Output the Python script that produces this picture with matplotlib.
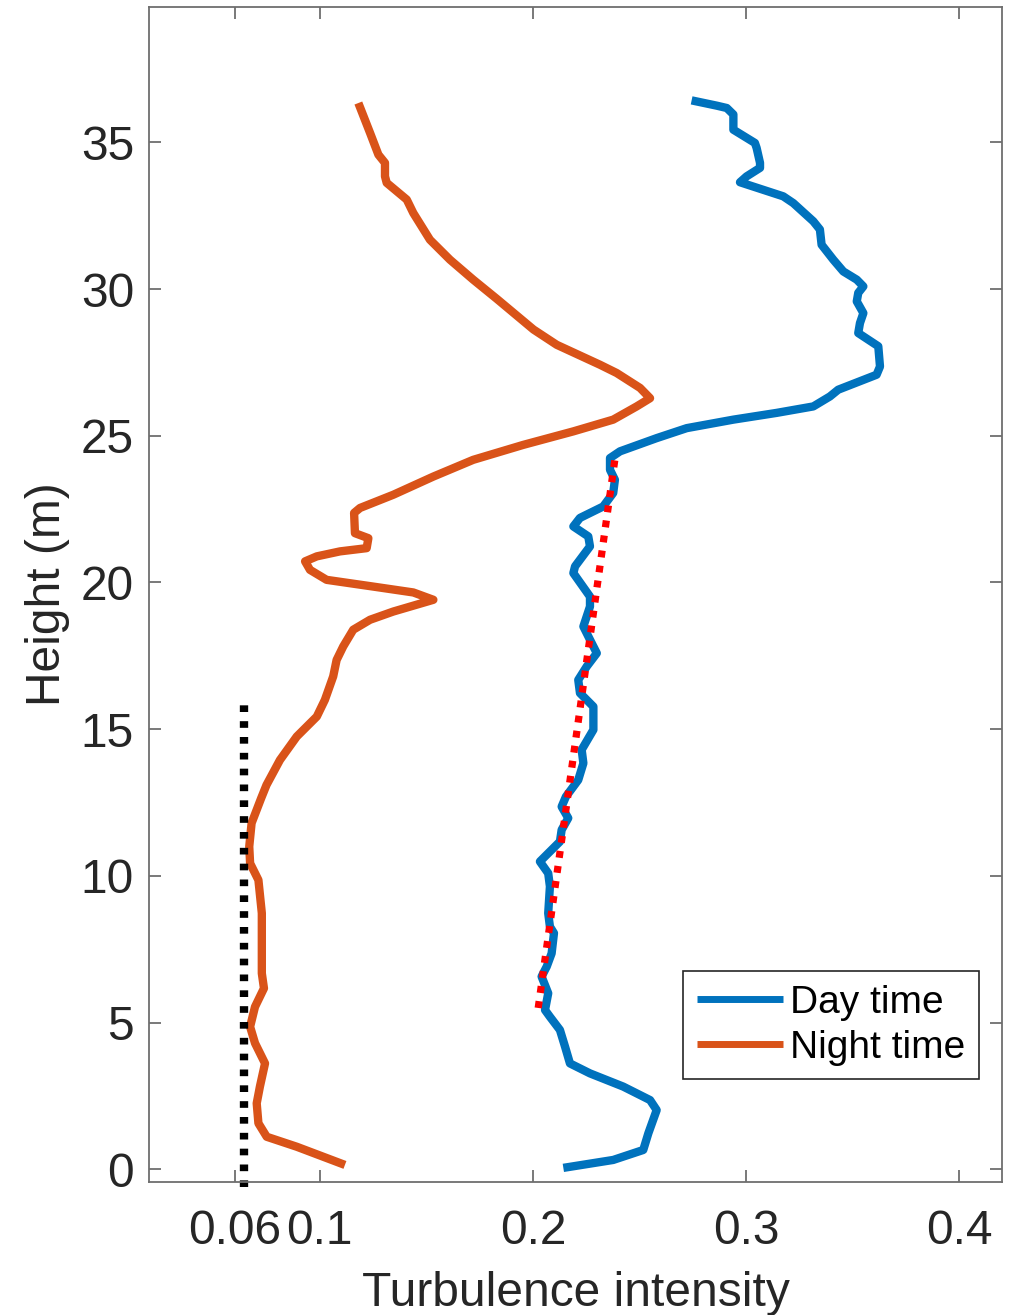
import matplotlib
matplotlib.use("Agg")
import matplotlib.pyplot as plt

plt.rcParams['font.family'] = ['Liberation Sans', 'DejaVu Sans']

# ---------------- data ----------------
day_h = [0.05, 0.32, 0.66, 1.23, 2.02, 2.36, 2.82, 3.27, 3.61, 4.18, 4.75, 5.20, 5.43,
         6.0, 6.57, 6.91, 7.36, 8.05, 8.27, 8.73, 9.64, 10.09, 10.49, 10.83, 11.17,
         11.57, 11.97, 12.36, 12.70, 13.27, 13.84, 14.30, 14.98, 15.77, 16.23, 16.68,
         17.14, 17.59, 18.05, 18.5, 19.18, 19.52, 20.32, 20.55, 21.23, 21.57, 21.91,
         22.20, 22.59, 23.05, 23.50, 23.84, 24.24, 24.47, 24.92, 25.26, 25.55, 25.78,
         26.0, 26.34, 26.57, 27.08, 27.36, 28.05, 28.50, 28.84, 29.18, 29.58, 29.87,
         30.09, 30.32, 30.60, 31.0, 31.51, 32.03, 32.31, 32.93, 33.16, 33.64, 33.84,
         34.13, 34.30, 34.81, 34.98, 35.43, 35.95, 36.17, 36.25, 36.43]
day_ti = [0.2143, 0.2377, 0.2518, 0.2542, 0.2581, 0.2550, 0.2424, 0.2268, 0.2174, 0.2151,
          0.2127, 0.2080, 0.2057, 0.2072, 0.2041, 0.2065, 0.2088, 0.2099, 0.2080, 0.2072,
          0.2080, 0.2072, 0.2033, 0.2080, 0.2127, 0.2135, 0.2166, 0.2135, 0.2155, 0.2213,
          0.2237, 0.2229, 0.2284, 0.2284, 0.2221, 0.2213, 0.2253, 0.2300, 0.2268, 0.2237,
          0.2268, 0.2268, 0.2190, 0.2198, 0.2268, 0.2260, 0.2190, 0.2221, 0.2330, 0.2377,
          0.2385, 0.2362, 0.2362, 0.2409, 0.2581, 0.2722, 0.2941, 0.3144, 0.3316, 0.3394,
          0.3433, 0.3613, 0.3629, 0.3621, 0.3527, 0.3535, 0.3551, 0.3520, 0.3527, 0.3551,
          0.3520, 0.3457, 0.3410, 0.3355, 0.3347, 0.3316, 0.3222, 0.3175, 0.2972, 0.3003,
          0.3066, 0.3066, 0.3050, 0.3042, 0.2941, 0.2941, 0.2910, 0.2863, 0.2745]

night_h = [0.15, 0.77, 1.11, 1.57, 2.25, 2.82, 3.61, 4.30, 4.86, 5.54, 6.17, 6.68, 7.59,
           8.73, 9.86, 10.43, 11.0, 11.80, 12.65, 13.1, 13.95, 14.75, 15.43, 16.0, 16.80,
           17.36, 17.82, 18.39, 18.73, 19.01, 19.41, 19.66, 19.86, 20.09, 20.43, 20.72,
           20.89, 21.06, 21.17, 21.51, 21.68, 22.37, 22.54, 22.99, 23.61, 24.18, 24.69,
           25.15, 25.55, 26.0, 26.28, 26.63, 27.14, 27.42, 28.10, 28.62, 29.67, 30.32,
           31.0, 31.68, 32.59, 33.05, 33.62, 33.84, 34.30, 34.58, 35.32, 36.34]
night_ti = [0.1118, 0.0892, 0.0751, 0.0712, 0.0704, 0.0719, 0.0743, 0.0696, 0.0673, 0.0696,
            0.0738, 0.0728, 0.0728, 0.0728, 0.0712, 0.0673, 0.0669, 0.0680, 0.0725, 0.0750,
            0.0813, 0.0892, 0.0986, 0.1024, 0.1063, 0.1079, 0.1110, 0.1157, 0.1236, 0.1345,
            0.1533, 0.1439, 0.1251, 0.1032, 0.0954, 0.0931, 0.0986, 0.1095, 0.1220, 0.1228,
            0.1165, 0.1161, 0.1189, 0.1345, 0.1533, 0.1720, 0.1955, 0.2190, 0.2377, 0.2487,
            0.2550, 0.2503, 0.2393, 0.2315, 0.2112, 0.2003, 0.1830, 0.1720, 0.1611, 0.1517,
            0.1439, 0.1408, 0.1314, 0.1306, 0.1306, 0.1275, 0.1236, 0.1181]

fit_ti = [0.2025, 0.2385]
fit_h = [5.5, 24.2]

ref_ti = [0.0645, 0.0645]
ref_h = [-0.6, 15.9]

xticks = [0.06, 0.1, 0.2, 0.3, 0.4]
xticklabels = ['0.06', '0.1', '0.2', '0.3', '0.4']
yticks = [0, 5, 10, 15, 20, 25, 30, 35]

# ---------------- plot ----------------
fig = plt.figure(figsize=(10.22, 13.15), dpi=100)
ax = fig.add_axes([0.1461, 0.1014, 0.8340, 0.8930])

blue = '#0072BD'
orange = '#D95319'
lw = 6.0

ax.plot(day_ti, day_h, color=blue, lw=lw, label='Day time', solid_joinstyle='round',
        solid_capstyle='butt')
ax.plot(night_ti, night_h, color=orange, lw=lw, label='Night time', solid_joinstyle='round',
        solid_capstyle='butt')
ax.plot(fit_ti, fit_h, color='red', lw=5.2, ls=(0, (0.95, 1.15)), dash_capstyle='butt')
ax.plot(ref_ti, ref_h, color='black', lw=6.0, ls=(0, (0.8, 1.1)), dash_capstyle='butt',
        clip_on=False)

ax.set_xlim(0.02, 0.42)
ax.set_ylim(-0.42, 39.6)
ax.set_xticks(xticks)
ax.set_xticklabels(xticklabels)
ax.set_yticks(yticks)

axcol = '#6e6e6e'
for s in ax.spines.values():
    s.set_color(axcol)
    s.set_linewidth(1.3)
ax.tick_params(axis='both', which='major', direction='in', length=8.6, width=1.3,
               color=axcol, labelcolor='#262626', labelsize=34.5,
               top=True, right=True)
ax.tick_params(axis='x', pad=20)
ax.tick_params(axis='y', pad=11)

ax.set_xlabel('Turbulence intensity', fontsize=34.5, color='#262626', labelpad=12)
ax.set_ylabel('Height (m)', fontsize=34.5, color='#262626', labelpad=8)

leg = ax.legend(loc='lower right', bbox_to_anchor=(0.9737, 0.0872), borderaxespad=0,
                fontsize=28, handlelength=2.2, handletextpad=0.2, borderpad=0.35,
                labelspacing=0.22, fancybox=False, framealpha=1, edgecolor='#262626')
leg.get_frame().set_linewidth(1.2)
for l in leg.get_lines():
    l.set_linewidth(5)

fig.savefig('out.png', dpi=100)
